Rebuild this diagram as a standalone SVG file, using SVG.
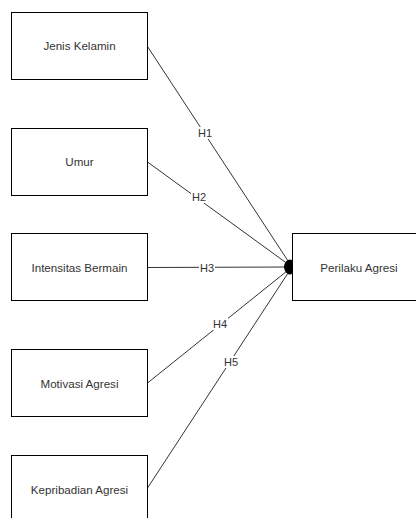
<svg xmlns="http://www.w3.org/2000/svg" width="416" height="518" viewBox="0 0 416 518">
<defs>
<style>
.box{fill:#fff;stroke:#000;stroke-width:1}
.t{font-family:"Liberation Sans",Arial,sans-serif;font-size:11.6px;fill:#333;text-anchor:middle;dominant-baseline:central}
.lbl{font-family:"Liberation Sans",Arial,sans-serif;font-size:11px;fill:#333;text-anchor:middle;dominant-baseline:central}
.edge{stroke:#333;stroke-width:1;fill:none}
.lb{fill:#fff}
</style>
<marker id="dot" viewBox="0 0 9 9" refX="8.5" refY="4.5" markerWidth="9" markerHeight="9" markerUnits="userSpaceOnUse" orient="auto">
<circle cx="4.5" cy="4.5" r="4" fill="#000"/>
</marker>
</defs>
<rect width="416" height="518" fill="#fff"/>
<g id="connectors">
<line class="edge" x1="147.5" y1="46.5" x2="292" y2="267" marker-end="url(#dot)"/>
<line class="edge" x1="147.5" y1="162" x2="292" y2="267" marker-end="url(#dot)"/>
<line class="edge" x1="147.5" y1="267.5" x2="292" y2="267" marker-end="url(#dot)"/>
<line class="edge" x1="147.5" y1="383" x2="292" y2="267" marker-end="url(#dot)"/>
<line class="edge" x1="147.5" y1="488" x2="292" y2="267" marker-end="url(#dot)"/>
<rect class="lb" x="197" y="127" width="16" height="12"/>
<text class="lbl" x="205" y="133">H1</text>
<rect class="lb" x="191" y="191" width="16" height="12"/>
<text class="lbl" x="199" y="197">H2</text>
<rect class="lb" x="199" y="262" width="16" height="12"/>
<text class="lbl" x="207" y="268">H3</text>
<rect class="lb" x="212" y="318" width="16" height="12"/>
<text class="lbl" x="220" y="324">H4</text>
<rect class="lb" x="223" y="356" width="16" height="12"/>
<text class="lbl" x="231" y="362">H5</text>
</g>
<g id="jenis">
<rect class="box" x="11.5" y="12.5" width="136" height="67"/>
<text class="t" x="79.5" y="45">Jenis Kelamin</text>
</g>
<g id="umur">
<rect class="box" x="11.5" y="128.5" width="136" height="67"/>
<text class="t" x="79.5" y="161">Umur</text>
</g>
<g id="intensitas">
<rect class="box" x="11.5" y="233.5" width="136" height="67"/>
<text class="t" x="79.5" y="267">Intensitas Bermain</text>
</g>
<g id="motivasi">
<rect class="box" x="11.5" y="349.5" width="136" height="67"/>
<text class="t" x="79.5" y="383">Motivasi Agresi</text>
</g>
<g id="kepribadian">
<rect class="box" x="11.5" y="455.5" width="136" height="67"/>
<text class="t" x="79.5" y="489">Kepribadian Agresi</text>
</g>
<g id="perilaku">
<rect class="box" x="292.5" y="233.5" width="136" height="67"/>
<text class="t" x="359" y="267">Perilaku Agresi</text>
</g>
</svg>
